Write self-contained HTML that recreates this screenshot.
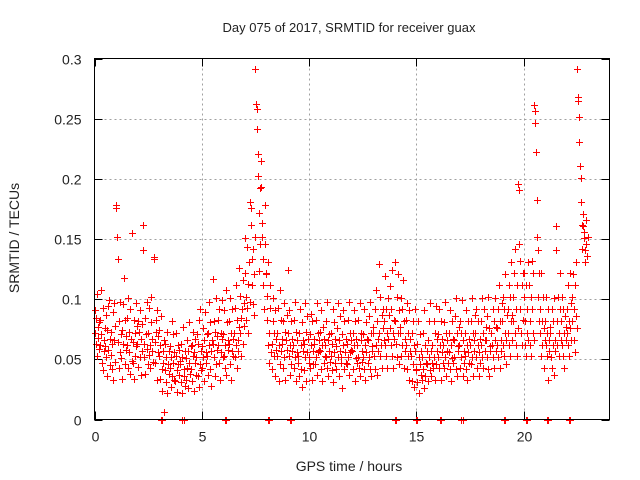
<!DOCTYPE html>
<html><head><meta charset="utf-8"><style>
body{margin:0;background:#fff}
svg{display:block;font-family:"Liberation Sans",sans-serif}
</style></head><body>
<svg id="chart" width="640" height="480" viewBox="0 0 640 480">
<rect width="640" height="480" fill="#fff"/>
<text x="349" y="32" font-size="13" text-anchor="middle" fill="#222">Day 075 of 2017, SRMTID for receiver guax</text>
<text x="349" y="471" font-size="14" text-anchor="middle" fill="#222">GPS time / hours</text>
<text transform="translate(19,238) rotate(-90)" font-size="14" text-anchor="middle" fill="#222">SRMTID / TECUs</text>
<g id="grid"></g>
<g id="axes"></g>
<g id="points"></g>
<rect x="94.5" y="58.5" width="515" height="361" fill="none" stroke="#000" stroke-width="1"/>
</svg>
<script>
const binStart = 0, binWidth = 0.25;
const binValues = [
[.072,.091,.063,.084,.104,.053,.077,.068,.081,.059],
[.083,.062,.108,.071,.047,.093,.041,.066,.057,.076],
[.061,.087,.052,.074,.036,.094,.058,.099,.067,.045],
[.054,.073,.042,.063,.089,.033,.066,.097,.048,.078],
[.176,.178,.152,.133,.064,.043,.082,.098,.056,.071],
[.051,.074,.034,.096,.063,.118,.046,.083,.058,.069],
[.062,.084,.043,.101,.056,.073,.038,.092,.067,.049],
[.155,.064,.047,.083,.034,.072,.053,.097,.061,.078],
[.063,.082,.044,.073,.052,.091,.037,.067,.057,.079],
[.162,.141,.063,.052,.084,.038,.071,.098,.059,.046],
[.072,.054,.093,.043,.062,.081,.102,.057,.067,.048],
[.135,.133,.064,.047,.083,.073,.033,.091,.056,.069],
[.053,.074,.034,.062,.086,.042,.024,.057,.047,.066],
[.006,.041,.063,.031,.052,.073,.022,.046,.038,.057],
[.043,.061,.027,.052,.082,.036,.047,.071,.033,.056],
[.032,.053,.072,.041,.023,.062,.046,.037,.058,.049],
[.046,.063,.031,.022,.052,.077,.042,.036,.057,.028],
[.051,.033,.066,.043,.026,.057,.081,.047,.038,.061],
[.042,.062,.032,.053,.073,.024,.056,.047,.067,.037],
[.052,.071,.036,.063,.027,.083,.046,.092,.057,.041],
[.061,.043,.076,.052,.032,.066,.089,.056,.047,.071],
[.053,.072,.037,.098,.062,.042,.081,.028,.057,.066],
[.117,.063,.052,.082,.036,.073,.101,.046,.058,.069],
[.062,.083,.047,.092,.033,.072,.056,.099,.067,.052],
[.071,.053,.091,.043,.062,.108,.037,.081,.058,.066],
[.063,.082,.101,.046,.072,.033,.092,.057,.067,.053],
[.072,.052,.093,.062,.112,.043,.083,.066,.057,.077],
[.126,.103,.072,.084,.053,.092,.116,.063,.097,.078],
[.151,.122,.102,.083,.143,.093,.113,.072,.131,.098],
[.181,.176,.162,.133,.112,.096,.142,.087,.121,.152],
[.291,.262,.258,.241,.221,.202,.172,.123,.192,.146],
[.215,.193,.163,.152,.133,.112,.092,.146,.178,.121],
[.122,.103,.083,.062,.131,.047,.072,.093,.112,.056],
[.063,.042,.082,.101,.053,.072,.036,.091,.058,.067],
[.072,.053,.093,.032,.062,.108,.046,.083,.057,.067],
[.063,.082,.043,.097,.052,.073,.033,.066,.058,.087],
[.124,.072,.053,.091,.037,.062,.082,.046,.067,.057],
[.062,.043,.083,.052,.098,.032,.073,.056,.066,.047],
[.053,.072,.036,.092,.062,.042,.081,.027,.057,.066],
[.063,.041,.097,.052,.073,.032,.086,.056,.067,.047],
[.052,.071,.043,.088,.062,.033,.082,.046,.057,.067],
[.063,.046,.083,.052,.097,.037,.072,.056,.066,.058],
[.057,.073,.042,.091,.062,.032,.077,.047,.067,.053],
[.062,.052,.082,.043,.098,.036,.066,.071,.057,.048],
[.053,.072,.041,.063,.092,.031,.081,.056,.067,.047],
[.061,.042,.076,.052,.097,.036,.066,.086,.057,.047],
[.052,.071,.026,.062,.091,.042,.082,.056,.067,.047],
[.063,.046,.083,.052,.098,.037,.072,.056,.066,.058],
[.057,.072,.042,.091,.062,.032,.082,.051,.067,.047],
[.062,.052,.083,.043,.097,.036,.072,.066,.057,.048],
[.052,.071,.042,.092,.062,.033,.081,.056,.067,.047],
[.066,.052,.086,.042,.098,.036,.072,.061,.057,.077],
[.072,.053,.092,.042,.108,.062,.082,.037,.067,.057],
[.129,.072,.053,.102,.062,.087,.043,.076,.092,.066],
[.082,.062,.119,.053,.092,.072,.043,.101,.067,.087],
[.076,.111,.062,.092,.053,.124,.072,.043,.083,.067],
[.131,.082,.063,.102,.052,.121,.072,.046,.091,.077],
[.072,.101,.053,.092,.062,.116,.043,.082,.067,.057],
[.062,.083,.042,.097,.053,.072,.033,.091,.057,.067],
[.053,.072,.032,.082,.046,.062,.027,.092,.057,.041],
[.042,.063,.031,.082,.052,.022,.071,.046,.037,.057],
[.052,.033,.072,.042,.091,.026,.062,.036,.047,.057],
[.046,.066,.032,.082,.052,.041,.097,.036,.057,.047],
[.062,.043,.082,.052,.033,.072,.094,.046,.057,.067],
[.071,.052,.092,.043,.062,.033,.082,.056,.067,.047],
[.062,.043,.081,.052,.098,.036,.072,.066,.057,.047],
[.056,.072,.042,.091,.062,.032,.082,.051,.067,.047],
[.066,.052,.086,.042,.101,.036,.072,.061,.057,.077],
[.062,.082,.043,.072,.052,.099,.036,.066,.057,.047],
[.053,.072,.042,.091,.062,.033,.082,.056,.067,.047],
[.062,.082,.046,.101,.052,.072,.036,.066,.057,.087],
[.072,.052,.092,.043,.062,.082,.036,.056,.067,.047],
[.062,.082,.052,.101,.072,.043,.092,.066,.057,.077],
[.066,.052,.086,.042,.102,.036,.076,.061,.057,.072],
[.072,.062,.092,.052,.082,.043,.101,.066,.057,.077],
[.076,.062,.092,.052,.112,.043,.082,.066,.057,.097],
[.082,.062,.102,.053,.092,.072,.121,.046,.066,.087],
[.092,.072,.112,.062,.102,.053,.082,.131,.066,.087],
[.102,.082,.122,.072,.142,.062,.092,.053,.112,.076],
[.196,.191,.146,.132,.092,.072,.112,.062,.122,.083],
[.122,.102,.082,.062,.112,.053,.092,.072,.131,.066],
[.112,.082,.062,.102,.053,.092,.132,.072,.122,.066],
[.261,.256,.246,.222,.182,.152,.141,.102,.122,.082],
[.092,.072,.053,.122,.082,.062,.102,.043,.076,.066],
[.082,.062,.102,.053,.072,.033,.092,.066,.057,.077],
[.072,.052,.092,.043,.082,.062,.101,.037,.066,.057],
[.161,.141,.082,.062,.102,.053,.072,.122,.092,.066],
[.082,.062,.102,.053,.092,.072,.043,.086,.066,.077],
[.092,.072,.112,.062,.082,.053,.122,.076,.066,.097],
[.102,.082,.121,.066,.092,.056,.112,.086,.131,.076],
[.291,.268,.265,.251,.231,.211,.201,.181,.162,.142],
[.171,.161,.156,.151,.141,.131,.166,.146,.136,.152]
];
const zeroTimes = [3.1,4.1,6.1,8.1,9.1,14.0,15.0,16.1,17.1,19.1,20.1,21.1,22.1];
const xTicks = [0,5,10,15,20];
const yTicks = [0,0.05,0.1,0.15,0.2,0.25,0.3];
const yTickLabels = ["0","0.05","0.1","0.15","0.2","0.25","0.3"];

const L=94.5,R=609.5,T=58.5,B=419.5;
const xMin=0,xMax=24,yMin=0,yMax=0.3;
const xs=v=>L+(v-xMin)/(xMax-xMin)*(R-L);
const ys=v=>B-(v-yMin)/(yMax-yMin)*(B-T);
const NS="http://www.w3.org/2000/svg";
function mk(tag,attrs,parent){const e=document.createElementNS(NS,tag);for(const k in attrs)e.setAttribute(k,attrs[k]);parent.appendChild(e);return e;}
const grid=document.getElementById('grid'),axes=document.getElementById('axes'),pts=document.getElementById('points');

xTicks.forEach(t=>{
  const x=Math.round(xs(t))+0.5;
  if(t>xMin){
    const g=mk('line',{x1:x,x2:x,y1:T,y2:B,stroke:'#a0a0a0','stroke-dasharray':'2,3'},grid);
    
    
  }
  mk('line',{x1:x,x2:x,y1:B,y2:B-8,stroke:'#000'},axes);
  mk('line',{x1:x,x2:x,y1:T,y2:T+8,stroke:'#000'},axes);
  const lb=mk('text',{x:x,y:B+22,'font-size':'14','text-anchor':'middle',fill:'#222'},axes);
  lb.textContent=t;
  
  
});
yTicks.forEach((t,i)=>{
  const y=Math.round(ys(t))+0.5;
  if(t>yMin&&t<yMax){
    const g=mk('line',{x1:L,x2:R,y1:y,y2:y,stroke:'#a0a0a0','stroke-dasharray':'2,3'},grid);
    
    
  }
  mk('line',{x1:L,x2:L+8,y1:y,y2:y,stroke:'#000'},axes);
  mk('line',{x1:R,x2:R-8,y1:y,y2:y,stroke:'#000'},axes);
  const lb=mk('text',{x:L-13,y:y+5,'font-size':'14','text-anchor':'end',fill:'#222'},axes);
  lb.textContent=yTickLabels[i];
  
  
});
function plus(t,v){
  const x=Math.round(xs(t)),y=Math.round(ys(v));
  const p=mk('path',{d:`M${x-3},${y}h7v1h-7zM${x},${y-3}h1v7h-1z`,fill:'#ff0000','shape-rendering':'crispEdges'},pts);
  
  
}
binValues.forEach((vals,i)=>{
  const t0=binStart+i*binWidth;
  vals.forEach((v,k)=>plus(t0+k*binWidth/vals.length,v));
});
zeroTimes.forEach(t=>{plus(t,0);plus(t+0.05,0);});
</script>
</body></html>
